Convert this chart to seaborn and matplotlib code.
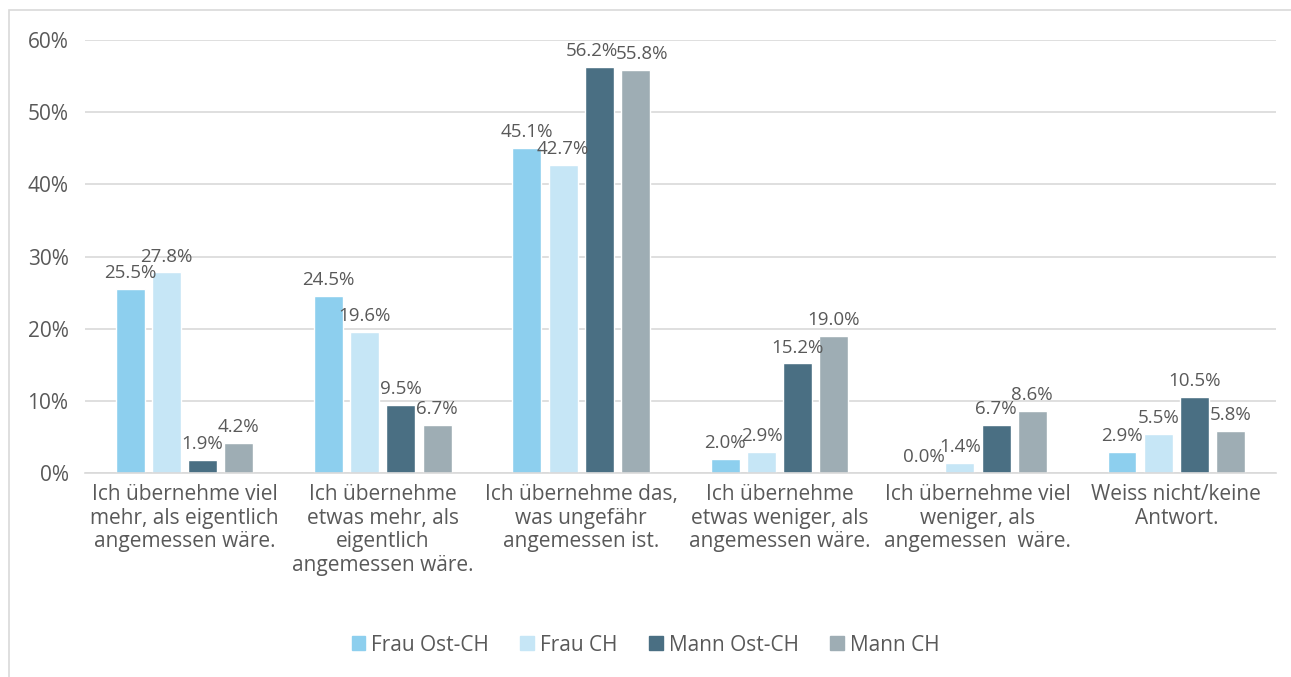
import matplotlib
matplotlib.use("Agg")
import matplotlib.pyplot as plt
import matplotlib.patches as mpatches
import pandas as pd
import seaborn as sns

# --- data ---
categories = [
    "Ich übernehme viel\nmehr, als eigentlich\nangemessen wäre.",
    "Ich übernehme\netwas mehr, als\neigentlich\nangemessen wäre.",
    "Ich übernehme das,\nwas ungefähr\nangemessen ist.",
    "Ich übernehme\netwas weniger, als\nangemessen wäre.",
    "Ich übernehme viel\nweniger, als\nangemessen  wäre.",
    "Weiss nicht/keine\nAntwort.",
]
series = ["Frau Ost-CH", "Frau CH", "Mann Ost-CH", "Mann CH"]
frau_ost = [25.5, 24.5, 45.1, 2.0, 0.0, 2.9]
frau_ch = [27.8, 19.6, 42.7, 2.9, 1.4, 5.5]
mann_ost = [1.9, 9.5, 56.2, 15.2, 6.7, 10.5]
mann_ch = [4.2, 6.7, 55.8, 19.0, 8.6, 5.8]
colors = ["#8DCFEE", "#C6E6F6", "#4A6F83", "#9EADB4"]

rows = []
for name, vals in zip(series, [frau_ost, frau_ch, mann_ost, mann_ch]):
    for cat, v in zip(categories, vals):
        rows.append({"Kategorie": cat, "Gruppe": name, "Wert": v / 100})
df = pd.DataFrame(rows)

sns.set_theme(style="white")
plt.rcParams["font.family"] = ["Open Sans", "DejaVu Sans"]
text_col = "#595959"
fs = 15

fig = plt.figure(figsize=(12.91, 6.77), dpi=100)
ax = fig.add_axes([0.066, 0.301, 0.922, 0.640])

sns.barplot(data=df, x="Kategorie", y="Wert", hue="Gruppe", order=categories,
            hue_order=series, palette=colors, width=0.73, gap=0.2,
            saturation=1, legend=False, ax=ax, errorbar=None)

labels = []
for cont in ax.containers:
    labels.append(ax.bar_label(cont, labels=[f"{b.get_height() * 100:.1f}%" for b in cont],
                               padding=5, fontsize=13.5, color=text_col))

# the two tallest labels sit side by side, push them apart a little
labels[2][2].xyann = (-5, 5)
labels[3][2].xyann = (5, 5)

ax.set_ylim(0, 0.6)
ax.set_yticks([0, 0.1, 0.2, 0.3, 0.4, 0.5, 0.6])
ax.set_yticklabels([f"{int(t * 100)}%" for t in ax.get_yticks()])
ax.set_xlim(-0.5, len(categories) - 0.5)
ax.grid(axis="y", color="#D9D9D9", linewidth=1.2)
ax.set_axisbelow(True)
for side in ["top", "right", "left"]:
    ax.spines[side].set_visible(False)
ax.spines["bottom"].set_color("#D9D9D9")
ax.spines["bottom"].set_linewidth(1.2)
ax.tick_params(axis="y", length=0, pad=12, labelsize=fs, labelcolor=text_col)
ax.tick_params(axis="x", length=0, pad=8, labelsize=fs, labelcolor=text_col)
for lbl in ax.get_xticklabels():
    lbl.set_linespacing(1.15)
ax.set_xlabel("")
ax.set_ylabel("")

handles = [mpatches.Patch(color=c, label=s) for c, s in zip(colors, series)]
fig.legend(handles=handles, loc="center", bbox_to_anchor=(0.5, 0.047), ncol=4,
           frameon=False, fontsize=fs, labelcolor=text_col, handlelength=0.65,
           handleheight=0.65, handletextpad=0.3, columnspacing=1.5)

# light frame like the chart area border
fig.patches.append(mpatches.Rectangle((9 / 1291, -0.01), 1.2, 1 - 10 / 677 + 0.01,
                                      transform=fig.transFigure, fill=False,
                                      edgecolor="#D9D9D9", linewidth=1.2))

fig.savefig("out.png", dpi=100)
